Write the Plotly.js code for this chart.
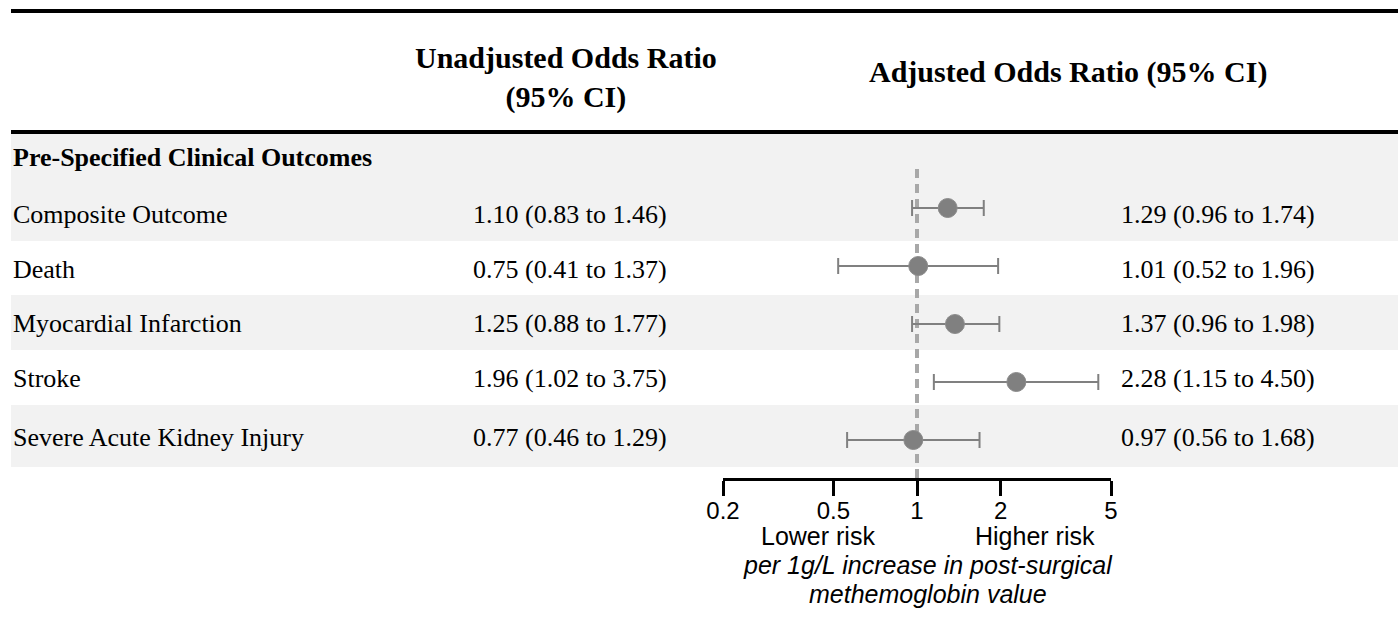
<!DOCTYPE html>
<html>
<head>
<meta charset="utf-8">
<script src="https://cdn.plot.ly/plotly-3.0.1.min.js"></script>
<style>html,body{margin:0;padding:0;background:#fff}#chart{width:1398px;height:618px}</style>
</head>
<body>
<div id="chart"></div>
<script>
// ---- data ----
var sectionLabel = "Pre-Specified Clinical Outcomes";
var outcomes = ["Composite Outcome", "Death", "Myocardial Infarction", "Stroke", "Severe Acute Kidney Injury"];
var unadjOR = [1.10, 0.75, 1.25, 1.96, 0.77];
var unadjLo = [0.83, 0.41, 0.88, 1.02, 0.46];
var unadjHi = [1.46, 1.37, 1.77, 3.75, 1.29];
var adjOR = [1.29, 1.01, 1.37, 2.28, 0.97];
var adjLo = [0.96, 0.52, 0.96, 1.15, 0.56];
var adjHi = [1.74, 1.96, 1.98, 4.50, 1.68];
var tickVals = [0.2, 0.5, 1, 2, 5];
var tickLabels = ["0.2", "0.5", "1", "2", "5"];
var nullValue = 1;
var colHeaders = ["Unadjusted Odds Ratio<br>(95% CI)", "Adjusted Odds Ratio (95% CI)"];
var axisNotes = ["Lower risk", "Higher risk"];
var axisTitleLines = ["per 1g/L increase in post-surgical", "methemoglobin value"];

// ---- layout helpers (pixel -> paper) ----
var W = 1398, H = 618;
function px(x) { return x / W; }
function py(y) { return 1 - y / H; }
function fmt(e, l, h) { return e.toFixed(2) + " (" + l.toFixed(2) + " to " + h.toFixed(2) + ")"; }

var serif = "Liberation Serif, Times New Roman, serif";
var sans = "Liberation Sans, Arial, sans-serif";

var rowEdges = [134, 186, 241, 295, 350, 405, 467];
var shapes = [];
// shaded bands: header + rows alternately
var shade = [true, true, false, true, false, true];
for (var i = 0; i < shade.length; i++) {
  if (shade[i]) {
    shapes.push({type: "rect", xref: "paper", yref: "paper", x0: px(11), x1: 1,
      y0: py(rowEdges[i + 1]), y1: py(rowEdges[i]), fillcolor: "#f2f2f2", line: {width: 0}, layer: "below"});
  }
}
// thick rules
shapes.push({type: "line", xref: "paper", yref: "paper", x0: px(11), x1: 1, y0: py(11), y1: py(11), line: {color: "#000", width: 4}});
shapes.push({type: "line", xref: "paper", yref: "paper", x0: px(11), x1: 1, y0: py(132), y1: py(132), line: {color: "#000", width: 4}});
// null line
shapes.push({type: "line", xref: "x", yref: "paper", x0: nullValue, x1: nullValue, y0: py(478), y1: py(169),
  line: {color: "#a8a8a8", width: 4, dash: "9px,6px"}, layer: "below"});

var annotations = [];
function ann(text, x, y, size, anchor, family) {
  annotations.push({xref: "paper", yref: "paper", x: px(x), y: py(y), text: text, showarrow: false,
    xanchor: anchor, yanchor: "middle", font: {family: family, size: size, color: "#000"}});
}
ann("<b>" + colHeaders[0] + "</b>", 566, 77, 30, "center", serif);
ann("<b>" + colHeaders[1] + "</b>", 1068, 72, 30, "center", serif);
ann("<b>" + sectionLabel + "</b>", 11, (rowEdges[0] + rowEdges[1]) / 2 - 2, 26, "left", serif);
for (var j = 0; j < outcomes.length; j++) {
  var yc = (rowEdges[j + 1] + rowEdges[j + 2]) / 2 + 1;
  ann(outcomes[j], 11, yc, 26, "left", serif);
  ann(fmt(unadjOR[j], unadjLo[j], unadjHi[j]), 471, yc, 26, "left", serif);
  ann(fmt(adjOR[j], adjLo[j], adjHi[j]), 1119, yc, 26, "left", serif);
}
ann(axisNotes[0], 818, 536, 25, "center", sans);
ann(axisNotes[1], 1035, 536, 25, "center", sans);
ann("<i>" + axisTitleLines[0] + "</i>", 928, 565, 25, "center", sans);
ann("<i>" + axisTitleLines[1] + "</i>", 928, 594, 25, "center", sans);

var trace = {
  type: "scatter", mode: "markers",
  x: adjOR, y: outcomes,
  error_x: {type: "data", symmetric: false,
    array: adjHi.map(function (h, i) { return h - adjOR[i]; }),
    arrayminus: adjLo.map(function (l, i) { return adjOR[i] - l; }),
    color: "#808080", thickness: 2, width: 8},
  marker: {size: 19, color: "#808080", line: {width: 1, color: "#8c8c8c"}},
  hoverinfo: "skip", showlegend: false
};

var layout = {
  width: W, height: H,
  margin: {l: 0, r: 0, t: 0, b: 0, pad: 0},
  paper_bgcolor: "#ffffff", plot_bgcolor: "rgba(0,0,0,0)",
  showlegend: false,
  xaxis: {type: "log", domain: [px(723), px(1111)], range: [Math.log10(0.2), Math.log10(5)],
    tickvals: tickVals, ticktext: tickLabels, ticks: "outside", ticklen: 15, tickwidth: 3, tickcolor: "#000",
    ticklabelstandoff: -6,
    showline: true, linewidth: 3, linecolor: "#000", showgrid: false, zeroline: false,
    tickfont: {family: sans, size: 24, color: "#000"}, fixedrange: true},
  yaxis: {type: "category", categoryarray: outcomes, categoryorder: "array",
    domain: [py(478), py(133)], range: [(478 - 208) / 58, (133 - 208) / 58],
    visible: false, showgrid: false, zeroline: false, fixedrange: true},
  shapes: shapes,
  annotations: annotations
};

Plotly.newPlot("chart", [trace], layout, {displayModeBar: false, staticPlot: true});
</script>
</body>
</html>
